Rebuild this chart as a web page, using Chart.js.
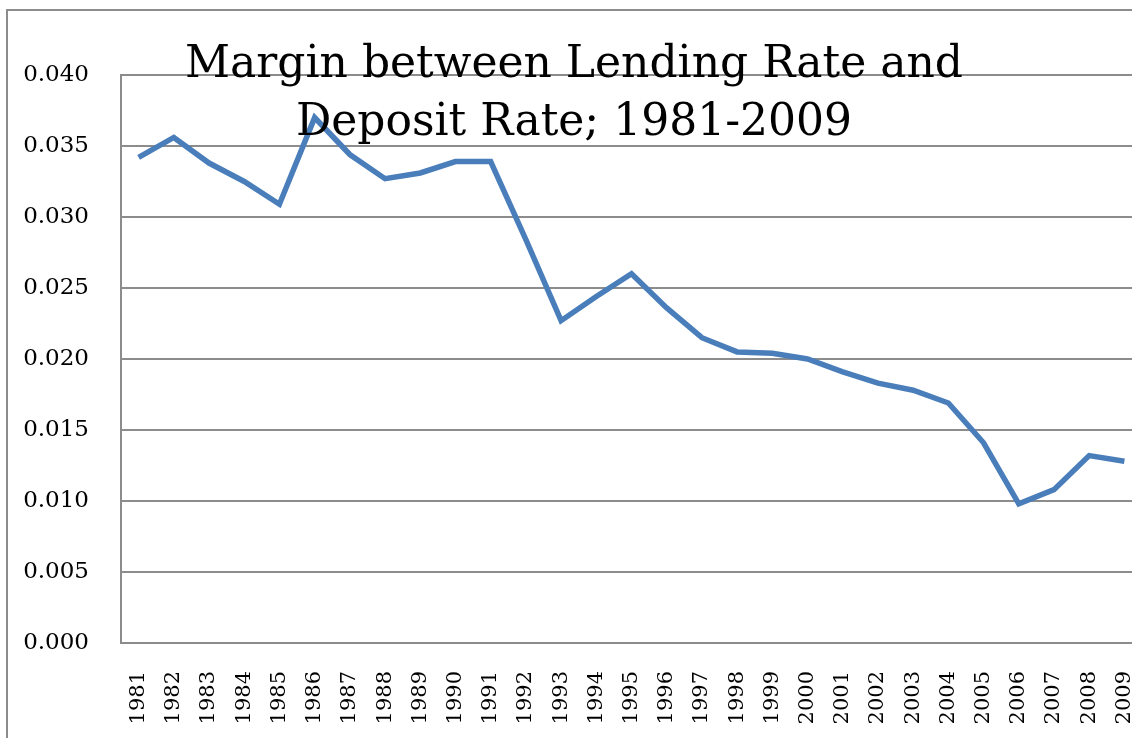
<!DOCTYPE html>
<html>
<head>
<meta charset="utf-8">
<script src="https://cdn.jsdelivr.net/npm/chart.js@4/dist/chart.umd.min.js"></script>
<style>
  html, body { margin: 0; padding: 0; background: #fff; overflow: hidden; width: 1132px; height: 738px; }
  #frame { position: absolute; left: 6px; top: 9px; width: 1200px; height: 800px;
           border-left: 2px solid #8c8c8c; border-top: 2px solid #8c8c8c; }
  #chart { position: absolute; left: 0; top: 0; }
  #title { position: absolute; left: 0; top: 33px; width: 1148px; text-align: center;
           font-family: "DejaVu Serif", serif; font-size: 44px; line-height: 58px; color: #000; }
</style>
</head>
<body>
<div id="frame"></div>
<canvas id="chart" width="1142" height="738"></canvas>
<div id="title">Margin between Lending Rate and<br>Deposit Rate; 1981-2009</div>
<script>
// margin between lending and deposit rate
const years = ['1981','1982','1983','1984','1985','1986','1987','1988','1989','1990',
  '1991','1992','1993','1994','1995','1996','1997','1998','1999','2000',
  '2001','2002','2003','2004','2005','2006','2007','2008','2009'];
const margin = [0.0342, 0.0356, 0.0338, 0.0325, 0.0309, 0.0370, 0.0344, 0.0327, 0.0331, 0.0339,
  0.0339, 0.0284, 0.0227, 0.0244, 0.0260, 0.0236, 0.0215, 0.0205, 0.0204, 0.0200,
  0.0191, 0.0183, 0.0178, 0.0169, 0.0141, 0.0098, 0.0108, 0.0132, 0.0128];
const yTicks = [0, 0.005, 0.010, 0.015, 0.020, 0.025, 0.030, 0.035, 0.040];

const gridGray = '#8c8c8c';

new Chart(document.getElementById('chart'), {
  type: 'line',
  data: {
    labels: years,
    datasets: [{
      data: margin,
      borderColor: '#4a7ebb',
      borderWidth: 5.5,
      pointRadius: 0,
      tension: 0,
      fill: false
    }]
  },
  options: {
    responsive: false,
    animation: false,
    devicePixelRatio: 1,
    layout: { padding: { top: 75, left: 0, right: 0, bottom: 0 } },
    plugins: { legend: { display: false }, tooltip: { enabled: false }, title: { display: false } },
    scales: {
      x: {
        offset: true,
        grid: { display: false, drawTicks: false },
        border: { display: true, color: gridGray, width: 2 },
        ticks: { autoSkip: false, minRotation: 90, maxRotation: 90, padding: 28, color: '#000',
                 font: { family: 'DejaVu Serif', size: 21 } },
        afterFit: s => { s.height = 95; s.paddingLeft = 0; s.paddingRight = 0; }
      },
      y: {
        min: 0,
        max: 0.04,
        afterBuildTicks: s => { s.ticks = yTicks.map(v => ({ value: v })); },
        grid: { color: gridGray, lineWidth: 2, drawTicks: false },
        border: { display: true, color: gridGray, width: 2 },
        ticks: { padding: 32, color: '#000', font: { family: 'DejaVu Serif', size: 23 },
                 callback: v => v.toFixed(3) },
        afterFit: s => { s.width = 121; }
      }
    }
  }
});
</script>
</body>
</html>
